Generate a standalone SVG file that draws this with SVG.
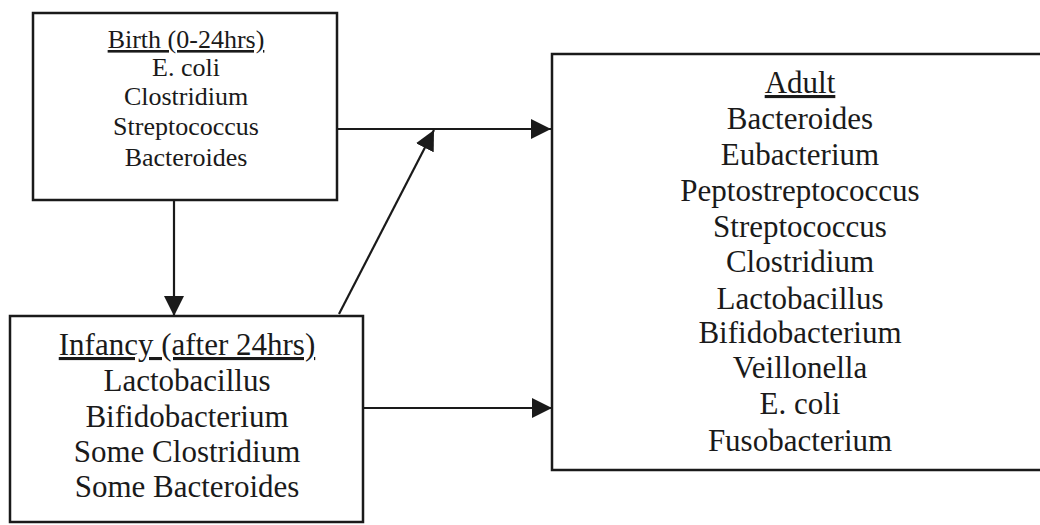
<svg xmlns="http://www.w3.org/2000/svg" width="1040" height="525" viewBox="0 0 1040 525">
<style>
.box{fill:#fff;stroke:#1a1a1a;stroke-width:2.5}
.t{font-family:"Liberation Serif","Times New Roman",serif;fill:#1a1a1a;text-anchor:middle}
.s{font-size:26px}
.l{font-size:31px}
.u{text-decoration:underline}
.c{stroke:#1a1a1a;stroke-width:2.2;fill:none}
</style>
<defs>
<marker id="ah" viewBox="0 0 20 20" refX="20" refY="10" markerWidth="20" markerHeight="20" markerUnits="userSpaceOnUse" orient="auto">
<path d="M0,0 L20,10 L0,20 Z" fill="#1a1a1a"/>
</marker>
</defs>
<rect width="1040" height="525" fill="#fff"/>
<g id="connectors">
<line class="c" x1="337" y1="129" x2="551" y2="129" marker-end="url(#ah)"/>
<line class="c" x1="174" y1="200" x2="174" y2="316" marker-end="url(#ah)"/>
<line class="c" x1="339" y1="314" x2="434" y2="130" marker-end="url(#ah)"/>
<line class="c" x1="363" y1="408" x2="552" y2="408" marker-end="url(#ah)"/>
</g>
<g id="birth">
<rect class="box" x="33" y="13" width="304" height="187"/>
<text class="t s u" x="186" y="48">Birth (0-24hrs)</text>
<text class="t s" x="186" y="76">E. coli</text>
<text class="t s" x="186" y="105">Clostridium</text>
<text class="t s" x="186" y="135">Streptococcus</text>
<text class="t s" x="186" y="166">Bacteroides</text>
</g>
<g id="infancy">
<rect class="box" x="10" y="316" width="353" height="206"/>
<text class="t l u" x="187" y="355">Infancy (after 24hrs)</text>
<text class="t l" x="187" y="391">Lactobacillus</text>
<text class="t l" x="187" y="427">Bifidobacterium</text>
<text class="t l" x="187" y="462">Some Clostridium</text>
<text class="t l" x="187" y="497">Some Bacteroides</text>
</g>
<g id="adult">
<rect class="box" x="552" y="54" width="500" height="416"/>
<text class="t l u" x="800" y="93">Adult</text>
<text class="t l" x="800" y="129">Bacteroides</text>
<text class="t l" x="800" y="165">Eubacterium</text>
<text class="t l" x="800" y="201">Peptostreptococcus</text>
<text class="t l" x="800" y="237">Streptococcus</text>
<text class="t l" x="800" y="272">Clostridium</text>
<text class="t l" x="800" y="309">Lactobacillus</text>
<text class="t l" x="800" y="343">Bifidobacterium</text>
<text class="t l" x="800" y="378">Veillonella</text>
<text class="t l" x="800" y="414">E. coli</text>
<text class="t l" x="800" y="451">Fusobacterium</text>
</g>
</svg>
